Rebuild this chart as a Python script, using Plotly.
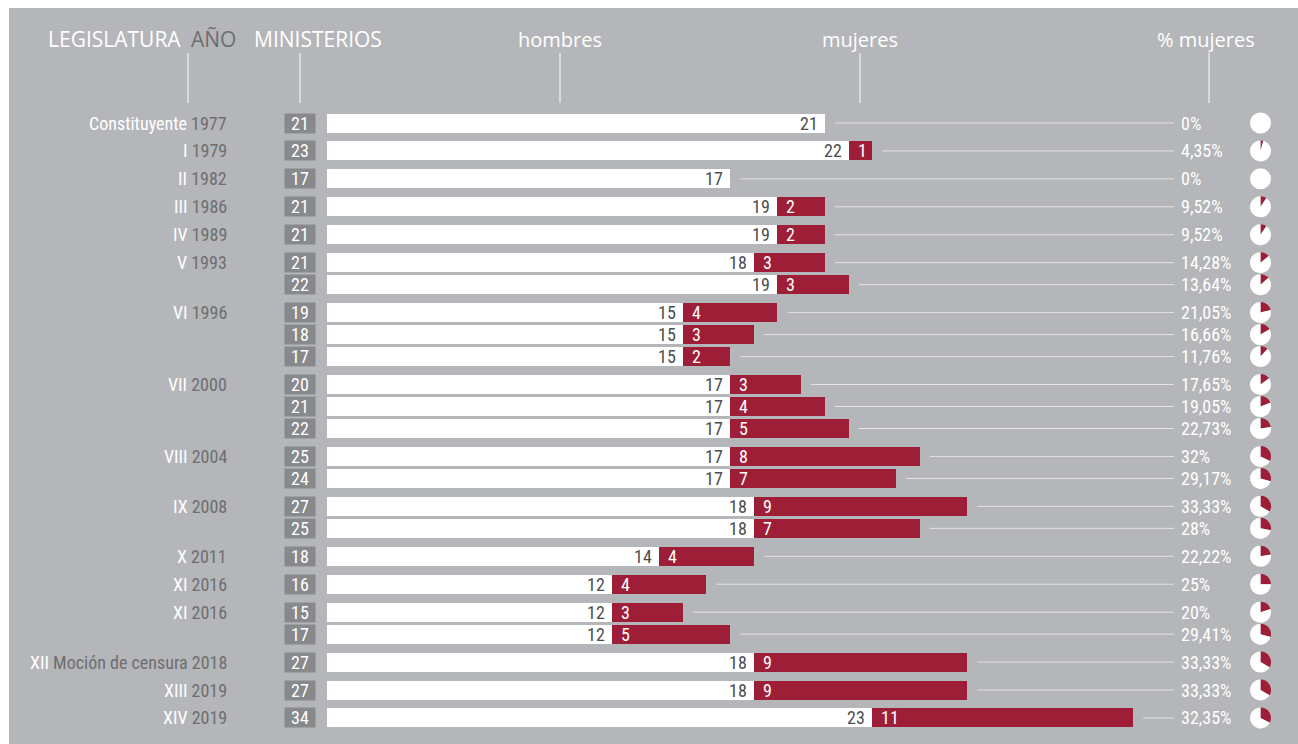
"""
Mujeres en los ministerios por legislatura (1977-2019)
"""

import plotly.graph_objects as go

# Datos: una fila por gobierno; 'grupo' indica a qué legislatura pertenece cada fila
legislaturas = ["Constituyente", "I", "II", "III", "IV", "V", "VI", "VII",
                "VIII", "IX", "X", "XI", "XI", "XII", "XIII", "XIV"]
anios = ["1977", "1979", "1982", "1986", "1989", "1993", "1996", "2000",
         "2004", "2008", "2011", "2016", "2016", "Moción de censura 2018", "2019", "2019"]
grupo = [0, 1, 2, 3, 4, 5, 5, 6, 6, 6, 7, 7, 7, 8, 8, 9, 9, 10, 11, 12, 12, 13, 14, 15]
hombres = [21, 22, 17, 19, 19, 18, 19, 15, 15, 15, 17, 17, 17, 17, 17, 18, 18, 14, 12, 12, 12, 18, 18, 23]
mujeres = [0, 1, 0, 2, 2, 3, 3, 4, 3, 2, 3, 4, 5, 8, 7, 9, 7, 4, 4, 3, 5, 9, 9, 11]
pct_labels = ["0%", "4,35%", "0%", "9,52%", "9,52%", "14,28%", "13,64%", "21,05%",
              "16,66%", "11,76%", "17,65%", "19,05%", "22,73%", "32%", "29,17%",
              "33,33%", "28%", "22,22%", "25%", "20%", "29,41%", "33,33%", "33,33%", "32,35%"]

W, H = 1298, 744
X0, PX = 327, 23.71          # inicio de las barras y píxeles por ministro
LINE_END = 1174
BG = "#b5b6b9"
RED = "#9e1e37"
DARK = "#6d6e71"
NUM_FONT = "Liberation Sans Narrow, Roboto Condensed, DejaVu Sans Condensed, sans-serif"
HEAD_FONT = "Open Sans, Roboto, sans-serif"
NUM_SIZE = 18

# posiciones verticales (px): 22 dentro de una legislatura, ~28 entre legislaturas
ypos = [123.0]
for i in range(1, len(grupo)):
    step = 22 if grupo[i] == grupo[i - 1] else 27.93
    ypos.append(ypos[-1] + step)

totales = [h + m for h, m in zip(hombres, mujeres)]

fig = go.Figure()

fig.add_trace(go.Bar(
    y=ypos, x=hombres, orientation='h', width=19,
    marker=dict(color='white', line=dict(width=0)),
    hoverinfo='skip', showlegend=False
))
fig.add_trace(go.Bar(
    y=ypos, x=mujeres, base=hombres, orientation='h', width=19,
    marker=dict(color=RED, line=dict(width=0)),
    hoverinfo='skip', showlegend=False
))

shapes = [dict(type='rect', xref='paper', yref='paper', x0=9 / W, x1=1,
               y0=0, y1=1 - 8 / H, fillcolor=BG, line=dict(width=0), layer='below')]
annotations = []

# cabeceras
for txt, x, color, size, anchor in [
    ("LEGISLATURA", 46, 'white', 21, 'left'),
    ("AÑO", 189, DARK, 21, 'left'),
    ("MINISTERIOS", 252, 'white', 21, 'left'),
    ("hombres", 560, 'white', 20, 'center'),
    ("mujeres", 860, 'white', 20, 'center'),
    ("% mujeres", 1206, 'white', 20, 'center'),
]:
    annotations.append(dict(text=txt, x=x / W, y=39, xref='paper', yref='y',
                            xanchor=anchor, yanchor='middle', showarrow=False,
                            font=dict(family=HEAD_FONT, size=size, color=color)))
for x in [188, 300, 560, 860, 1209]:
    shapes.append(dict(type='line', xref='paper', yref='y', x0=x / W, x1=x / W,
                       y0=53, y1=103, line=dict(color='#e6e6e7', width=1.5)))

prev = None
for i, y in enumerate(ypos):
    g = grupo[i]
    if g != prev:
        annotations.append(dict(
            text=f'<span style="color:white">{legislaturas[g]}</span> {anios[g]}',
            x=229 / W, y=y, xref='paper', yref='y', xanchor='right', yanchor='middle',
            showarrow=False, font=dict(family=NUM_FONT, size=NUM_SIZE, color=DARK)))
    prev = g

    # caja de ministerios
    annotations.append(dict(text=str(totales[i]), x=300 / W, y=y, xref='paper', yref='y',
                            xanchor='center', yanchor='middle', showarrow=False,
                            width=30, height=19, borderpad=0, bgcolor='#88898c',
                            font=dict(family=NUM_FONT, size=NUM_SIZE, color='white')))
    # números dentro de las barras
    annotations.append(dict(text=str(hombres[i]), x=hombres[i], y=y, xanchor='right',
                            yanchor='middle', xshift=-5, showarrow=False,
                            font=dict(family=NUM_FONT, size=NUM_SIZE, color='#4d4d4f')))
    if mujeres[i] > 0:
        annotations.append(dict(text=str(mujeres[i]), x=hombres[i], y=y, xanchor='left',
                                yanchor='middle', xshift=7, showarrow=False,
                                font=dict(family=NUM_FONT, size=NUM_SIZE, color='white')))
    # línea guía y porcentaje
    shapes.append(dict(type='line', xref='x', yref='y',
                       x0=totales[i] + 10 / PX, x1=(LINE_END - X0) / PX, y0=y, y1=y,
                       line=dict(color='#e3e3e4', width=1)))
    annotations.append(dict(text=pct_labels[i], x=1179 / W, y=y, xref='paper', yref='y',
                            xanchor='left', yanchor='middle', showarrow=False,
                            font=dict(family=NUM_FONT, size=NUM_SIZE, color='white')))
    # tarta
    fig.add_trace(go.Pie(
        values=[mujeres[i], hombres[i]], sort=False, direction='clockwise', rotation=0,
        marker=dict(colors=[RED, 'white'], line=dict(width=0)),
        textinfo='none', hoverinfo='skip', showlegend=False,
        domain=dict(x=[1250 / W, 1271 / W], y=[1 - (y + 10.5) / H, 1 - (y - 10.5) / H])
    ))

fig.update_layout(
    width=W, height=H, autosize=False,
    margin=dict(t=0, b=0, l=0, r=0),
    paper_bgcolor='white', plot_bgcolor='rgba(0,0,0,0)',
    barmode='overlay', bargap=0,
    xaxis=dict(range=[-X0 / PX, (W - X0) / PX], visible=False, fixedrange=True),
    yaxis=dict(range=[H, 0], visible=False, fixedrange=True),
    shapes=shapes, annotations=annotations,
)

# sin margen en la página para que la figura ocupe toda la ventana
fig.write_html("out.html", config={'displayModeBar': False},
               post_script="document.body.style.margin='0';")
